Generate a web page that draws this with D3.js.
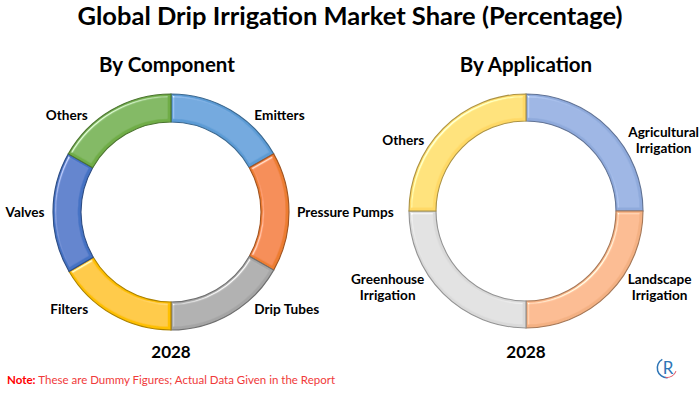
<!DOCTYPE html>
<html>
<head>
<meta charset="utf-8">
<script src="https://cdn.jsdelivr.net/npm/d3@7"></script>
<style>
  html, body { margin: 0; padding: 0; background: #fff; }
  text { font-family: Lato, "Open Sans", sans-serif; }
</style>
</head>
<body>
<div id="chart"></div>
<script>
// data (dummy shares, percent)
const componentLabels = ["Emitters", "Pressure Pumps", "Drip Tubes", "Filters", "Valves", "Others"];
const componentValues = [16.8, 16.4, 16.8, 16.6, 16.6, 16.8];
const componentColors = ["#5B9BD5", "#ED7D31", "#A5A5A5", "#FFC000", "#4472C4", "#70AD47"];

const applicationLabels = [["Agricultural", "Irrigation"], ["Landscape", "Irrigation"], ["Greenhouse", "Irrigation"], ["Others"]];
const applicationValues = [25, 25, 25, 25];
const applicationColors = ["#8FAADC", "#F4B183", "#D9D9D9", "#FFD966"];

const title = "Global Drip Irrigation Market Share (Percentage)";
const year = "2028";

const width = 700, height = 393;

const svg = d3.select("#chart")
  .append("svg")
  .attr("width", width)
  .attr("height", height);

// bevel look of the ring segments
const defs = svg.append("defs");
const bevel = defs.append("filter").attr("id", "bevel")
  .attr("x", "-10%").attr("y", "-10%").attr("width", "120%").attr("height", "120%");
bevel.append("feGaussianBlur").attr("in", "SourceAlpha").attr("stdDeviation", 1.6).attr("result", "blur");
bevel.append("feSpecularLighting")
  .attr("in", "blur").attr("surfaceScale", 4).attr("specularConstant", 0.6)
  .attr("specularExponent", 22).attr("lighting-color", "#ffffff").attr("result", "spec")
  .append("feDistantLight").attr("azimuth", 225).attr("elevation", 40);
bevel.append("feComposite").attr("in", "spec").attr("in2", "SourceAlpha").attr("operator", "in").attr("result", "specIn");
bevel.append("feComposite").attr("in", "SourceGraphic").attr("in2", "specIn")
  .attr("operator", "arithmetic").attr("k1", 0).attr("k2", 1).attr("k3", 1).attr("k4", 0);

// title
svg.append("text")
  .attr("x", width / 2).attr("y", 25)
  .attr("text-anchor", "middle")
  .attr("font-size", 25.5).attr("font-weight", 700).attr("fill", "#000")
  .text(title);

function donut(opts) {
  const g = svg.append("g").attr("transform", `translate(${opts.cx},${opts.cy})`);

  const pie = d3.pie().sort(null).value(d => d)(opts.values);
  const arc = d3.arc().innerRadius(opts.inner).outerRadius(opts.outer);

  g.selectAll("path.seg")
    .data(pie)
    .join("path")
    .attr("class", "seg")
    .attr("d", arc)
    .attr("fill", (d, i) => opts.colors[i])
    .attr("stroke", (d, i) => d3.color(opts.colors[i]).darker(1.1))
    .attr("stroke-width", 1.1)
    .attr("filter", "url(#bevel)");

  // labels outside each segment
  pie.forEach((d, i) => {
    const a = (d.startAngle + d.endAngle) / 2;
    const s = Math.sin(a), c = Math.cos(a);
    const side = s > 0.05 ? 1 : (s < -0.05 ? -1 : 0);
    const x = side * (opts.gap + opts.rx * Math.abs(s));
    const y = -opts.ry * c + opts.labelDy;
    const lines = [].concat(opts.labels[i]);
    const t = g.append("text")
      .attr("font-size", 13.6).attr("font-weight", 700).attr("fill", "#000")
      .attr("text-anchor", "middle");
    lines.forEach((ln, k) => {
      t.append("tspan").attr("x", 0)
        .attr("dy", k === 0 ? `${0.35 - (lines.length - 1) * 0.6}em` : "1.2em")
        .text(ln);
    });
    const w = t.node().getBBox().width;
    t.attr("transform", `translate(${x + side * w / 2},${y})`);
  });

  svg.append("text")
    .attr("x", opts.cx + opts.headDx).attr("y", 72)
    .attr("text-anchor", "middle")
    .attr("font-size", 20.5).attr("font-weight", 700).attr("fill", "#000")
    .text(opts.heading);

  svg.append("text")
    .attr("x", opts.cx).attr("y", 358)
    .attr("text-anchor", "middle")
    .attr("font-size", 17).attr("font-weight", 700).attr("fill", "#000")
    .text(year);
}

donut({
  cx: 171, cy: 212, inner: 90, outer: 118,
  values: componentValues, colors: componentColors, labels: componentLabels,
  rx: 86, gap: 40, ry: 112, labelDy: 0, heading: "By Component", headDx: -4
});

donut({
  cx: 526, cy: 211, inner: 90, outer: 117,
  values: applicationValues, colors: applicationColors, labels: applicationLabels,
  rx: 100, gap: 31, ry: 104, labelDy: 3, heading: "By Application", headDx: 0
});

// footnote
const note = svg.append("text")
  .attr("x", 7).attr("y", 384)
  .attr("font-family", "'Open Sans', sans-serif")
  .attr("font-size", 11.5).attr("fill", "#F03A3A");
note.append("tspan").attr("font-weight", 700).attr("fill", "#FF0000").text("Note: ");
note.append("tspan").text("These are Dummy Figures; Actual Data Given in the Report");

// small logo
const logo = svg.append("g").attr("transform", "translate(667,368)");
logo.append("path")
  .attr("d", d3.arc()({ innerRadius: 9, outerRadius: 10.5, startAngle: -0.5, endAngle: -3.2 }))
  .attr("fill", "#2E75B6");
logo.append("path")
  .attr("d", d3.arc()({ innerRadius: 9, outerRadius: 10, startAngle: 1.9, endAngle: 3.3 }))
  .attr("fill", "#E05A6A");
logo.append("text")
  .attr("x", 1).attr("y", 6)
  .attr("text-anchor", "middle")
  .attr("font-size", 17).attr("fill", "#2E75B6")
  .text("R");
</script>
</body>
</html>
